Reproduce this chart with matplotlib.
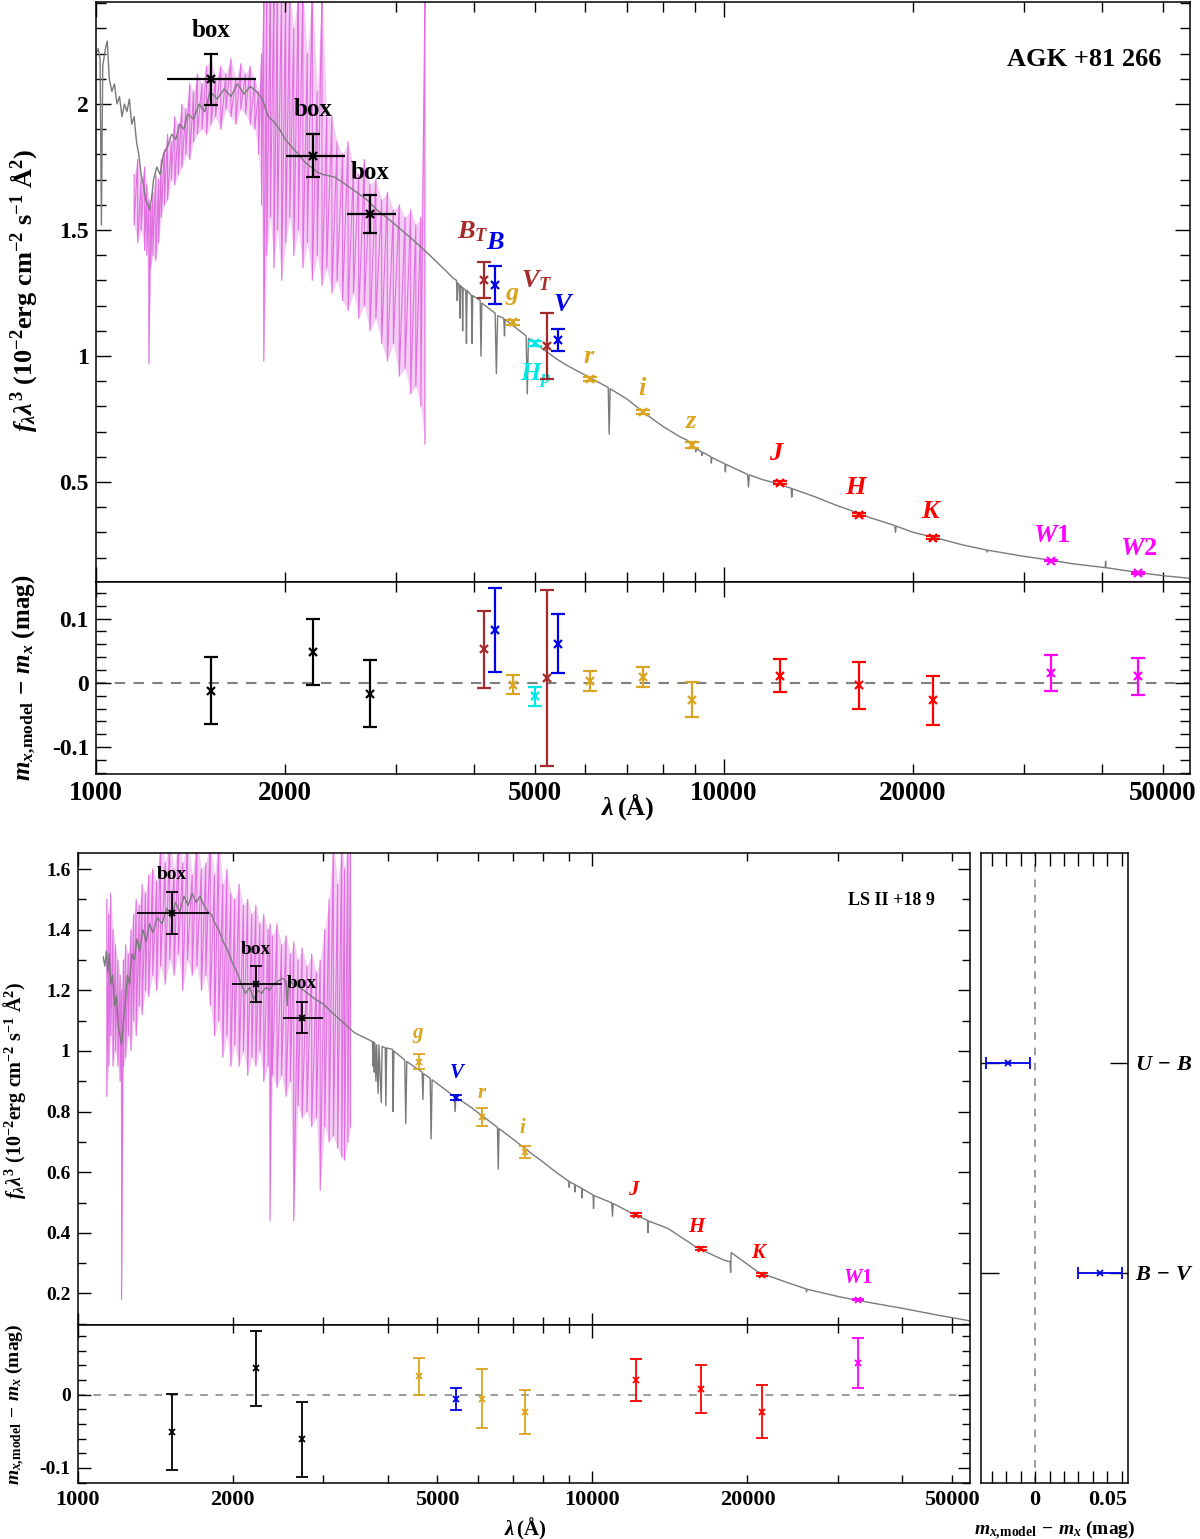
import numpy as np
import matplotlib
matplotlib.use('Agg')
import matplotlib.pyplot as plt
from matplotlib.ticker import FixedLocator, FuncFormatter, NullFormatter, MultipleLocator

plt.rcParams['font.family'] = ['Liberation Serif', 'DejaVu Serif']
plt.rcParams['font.weight'] = 'bold'
plt.rcParams['mathtext.fontset'] = 'custom'
plt.rcParams['mathtext.rm'] = 'Liberation Serif:bold'
plt.rcParams['mathtext.it'] = 'Liberation Serif:bold:italic'
plt.rcParams['mathtext.bf'] = 'Liberation Serif:bold'
plt.rcParams['axes.unicode_minus'] = False

# ---------------- AGK +81 266 (top) ----------------
top_names = ['$B_T$', '$B$', '$g$', '$H_p$', '$V_T$', '$V$', '$r$', '$i$', '$z$',
             '$J$', '$H$', '$K$', '$W1$', '$W2$']
top_bands = ['brown', 'blue', 'gold', 'cyan', 'brown', 'blue', 'gold', 'gold', 'gold',
             'red', 'red', 'red', 'mag', 'mag']
top_wl = [4150, 4323, 4618, 5000, 5222, 5433, 6120, 7422, 8882, 12296, 16388, 21520, 33170, 45650]
top_flux = [1.302, 1.282, 1.134, 1.050, 1.041, 1.063, 0.909, 0.778, 0.645, 0.497, 0.370, 0.279, 0.188, 0.138]
top_ferr = [0.073, 0.077, 0.010, 0.010, 0.131, 0.045, 0.008, 0.008, 0.012, 0.007, 0.007, 0.006, 0.003, 0.003]
top_res = [0.052, 0.082, -0.003, -0.021, 0.007, 0.061, 0.003, 0.009, -0.026, 0.011, -0.004, -0.027, 0.0155, 0.010]
top_rerr = [0.060, 0.065, 0.015, 0.015, 0.137, 0.046, 0.015, 0.015, 0.028, 0.026, 0.036, 0.038, 0.028, 0.029]

top_box_wl = [1524, 2217, 2730]
top_box_lo = [1297, 2006, 2508]
top_box_hi = [1798, 2491, 3000]
top_box_flux = [2.098, 1.795, 1.563]
top_box_ferr = [0.100, 0.085, 0.075]
top_box_res = [-0.012, 0.048, -0.017]
top_box_rerr = [0.052, 0.052, 0.052]

# model spectrum (grey)
top_model_wl = [1000, 1008, 1015, 1020, 1025, 1035, 1042, 1050, 1060, 1070, 1080, 1090, 1100, 1110,
                1120, 1130, 1140, 1150, 1160, 1170, 1180, 1190, 1200, 1210, 1216, 1225, 1235, 1250,
                1265, 1280, 1300, 1320, 1340, 1360, 1380, 1400, 1430, 1460, 1490, 1520, 1560, 1600,
                1640, 1680, 1720, 1760, 1800, 1840, 1880, 1920, 1960, 2000, 2050, 2100, 2150, 2200,
                2250, 2300, 2400, 2500, 2600, 2700, 2800, 2900, 3000, 3200, 3400, 3600, 3700, 3750,
                3760, 3770, 3790, 3798, 3806, 3830, 3835, 3842, 3880, 3889, 3898, 3960, 3970, 3980,
                4090, 4102, 4115, 4320, 4340, 4360, 4460, 4471, 4482, 4840, 4861, 4882, 5400, 5600,
                6000, 6540, 6563, 6586, 7000, 7500, 8000, 8500, 8750, 9000, 9015, 9030, 9200, 9229,
                9250, 9530, 9546, 9560, 10030, 10049, 10070, 10900, 10938, 10970, 11500, 12000, 12790,
                12818, 12850, 14000, 15000, 16000, 17000, 18000, 18700, 18751, 18800, 20000, 21620,
                21655, 21690, 24000, 26200, 26250, 26300, 30000, 33000, 36000, 40450, 40512, 40560,
                45000, 50000, 55000]
top_model_f = [2.20, 2.22, 2.18, 1.52, 2.15, 2.22, 2.25, 2.10, 2.05, 2.08, 2.00, 2.03, 1.95, 2.00,
               1.97, 2.02, 1.92, 1.95, 1.85, 1.80, 1.72, 1.68, 1.62, 1.60, 1.58, 1.62, 1.70, 1.75,
               1.72, 1.80, 1.83, 1.88, 1.86, 1.92, 1.90, 1.96, 1.94, 2.00, 1.97, 2.05, 2.02, 2.06,
               2.03, 2.08, 2.04, 2.07, 2.05, 2.02, 1.95, 1.93, 1.90, 1.86, 1.83, 1.80, 1.77, 1.75,
               1.73, 1.72, 1.71, 1.68, 1.65, 1.62, 1.58, 1.55, 1.52, 1.46, 1.40, 1.34, 1.31, 1.30,
               1.22, 1.29, 1.28, 1.15, 1.28, 1.27, 1.10, 1.27, 1.26, 1.05, 1.26, 1.24, 1.05, 1.24,
               1.22, 1.00, 1.21, 1.17, 0.93, 1.16, 1.15, 1.08, 1.145, 1.08, 0.85, 1.07, 0.99, 0.965,
               0.925, 0.875, 0.69, 0.87, 0.83, 0.77, 0.72, 0.68, 0.665, 0.635, 0.62, 0.633, 0.62, 0.605,
               0.618, 0.60, 0.575, 0.597, 0.572, 0.54, 0.57, 0.53, 0.48, 0.528, 0.51, 0.497, 0.475,
               0.44, 0.473, 0.44, 0.41, 0.385, 0.36, 0.34, 0.327, 0.30, 0.325, 0.30, 0.28,
               0.265, 0.279, 0.25, 0.23, 0.222, 0.229, 0.205, 0.19, 0.175, 0.16, 0.185, 0.16,
               0.143, 0.128, 0.118]

# observed UV spectrum (violet): upper / lower envelope of the spikes
top_uv_wl = [1150, 1165, 1180, 1195, 1205, 1214, 1222, 1232, 1245, 1258, 1270, 1285, 1300, 1318,
             1335, 1352, 1370, 1390, 1410, 1430, 1450, 1475, 1500, 1525, 1550, 1580, 1610, 1640,
             1670, 1700, 1730, 1760, 1790, 1815, 1835, 1850, 1870, 1895, 1920, 1945, 1975, 2005,
             2035, 2065, 2100, 2135, 2170, 2210, 2250, 2290, 2330, 2375, 2420, 2470, 2520, 2570,
             2620, 2675, 2730, 2790, 2850, 2910, 2975, 3040, 3105, 3170, 3230, 3290, 3340]
top_uv_hi = [1.72, 1.78, 1.70, 1.75, 1.68, 1.62, 1.60, 1.65, 1.72, 1.70, 1.78, 1.82, 1.88, 1.85,
             1.95, 1.92, 2.00, 1.98, 2.08, 2.05, 2.12, 2.08, 2.15, 2.18, 2.10, 2.15, 2.12, 2.18,
             2.10, 2.16, 2.12, 2.15, 2.10, 2.05, 2.20, 2.45, 2.45, 2.45, 2.45, 2.45, 2.45, 2.45,
             2.45, 2.30, 2.45, 2.45, 2.20, 2.45, 2.05, 2.45, 1.95, 1.95, 1.85, 1.80, 1.85, 1.75,
             1.72, 1.78, 1.68, 1.70, 1.62, 1.65, 1.58, 1.60, 1.55, 1.58, 1.52, 1.55, 2.45]
top_uv_lo = [1.52, 1.45, 1.50, 1.42, 1.40, 0.97, 1.35, 1.40, 1.38, 1.45, 1.55, 1.60, 1.62, 1.70,
             1.68, 1.72, 1.75, 1.80, 1.78, 1.85, 1.88, 1.90, 1.88, 1.92, 1.95, 1.90, 1.98, 1.95,
             1.92, 1.98, 1.96, 1.92, 1.90, 1.80, 1.60, 0.98, 1.40, 1.55, 1.35, 1.50, 1.30, 1.45,
             1.55, 1.40, 1.50, 1.35, 1.45, 1.30, 1.40, 1.28, 1.35, 1.25, 1.30, 1.22, 1.18, 1.25,
             1.15, 1.20, 1.10, 1.15, 1.05, 0.98, 1.05, 0.92, 0.95, 0.85, 0.88, 0.80, 0.65]

# ---------------- LS II +18 9 (bottom) ----------------
bot_names = ['$g$', '$V$', '$r$', '$i$', '$J$', '$H$', '$K$', '$W1$']
bot_bands = ['gold', 'blue', 'gold', 'gold', 'red', 'red', 'red', 'mag']
bot_wl = [4610, 5424, 6093, 7395, 12148, 16220, 21310, 32730]
bot_flux = [0.965, 0.846, 0.782, 0.667, 0.460, 0.348, 0.262, 0.180]
bot_ferr = [0.024, 0.008, 0.030, 0.019, 0.006, 0.006, 0.005, 0.003]
bot_res = [0.025, -0.0055, -0.0055, -0.023, 0.020, 0.0078, -0.023, 0.043]
bot_rerr = [0.025, 0.015, 0.040, 0.030, 0.029, 0.033, 0.036, 0.034]

bot_box_wl = [1528, 2222, 2725]
bot_box_lo = [1303, 1998, 2502]
bot_box_hi = [1800, 2492, 2993]
bot_box_flux = [1.454, 1.220, 1.110]
bot_box_ferr = [0.069, 0.059, 0.052]
bot_box_res = [-0.051, 0.036, -0.061]
bot_box_rerr = [0.0515, 0.051, 0.051]

bot_model_wl = [1122, 1130, 1138, 1145, 1152, 1160, 1170, 1180, 1190, 1200, 1210, 1218, 1228, 1238,
                1250, 1262, 1275, 1290, 1305, 1320, 1340, 1360, 1380, 1400, 1430, 1460, 1490, 1520,
                1550, 1580, 1610, 1640, 1670, 1700, 1730, 1760, 1790, 1820, 1850, 1880, 1920, 1960,
                2000, 2040, 2080, 2120, 2160, 2200, 2240, 2280, 2320, 2360, 2400, 2450, 2500, 2540,
                2555, 2570, 2620, 2700, 2800, 2900, 3000, 3150, 3300, 3450, 3600, 3700, 3740, 3750,
                3760, 3770, 3780, 3798, 3810, 3835, 3850, 3889, 3905, 3960, 3970, 3985, 4090, 4102,
                4115, 4320, 4340, 4360, 4670, 4686, 4700, 4840, 4861, 4882, 5390, 5411, 5430, 5800,
                6540, 6563, 6586, 7000, 7500, 8000, 8500, 9000, 9015, 9030, 9230, 9245, 9260, 9530,
                9546, 9560, 10030, 10049, 10070, 10900, 10938, 10970, 12000, 12790, 12818, 12850,
                14000, 16000, 18000, 18500, 18550, 18600, 21000, 24000, 26000, 26050, 26100, 30000,
                33000, 40000, 47000, 54000]
bot_model_f = [1.31, 1.28, 1.33, 1.26, 1.32, 1.22, 1.25, 1.15, 1.18, 1.08, 1.05, 1.02, 1.10, 1.15,
               1.25, 1.22, 1.32, 1.30, 1.37, 1.33, 1.40, 1.36, 1.42, 1.39, 1.44, 1.42, 1.47, 1.44,
               1.49, 1.46, 1.51, 1.48, 1.52, 1.49, 1.51, 1.48, 1.46, 1.45, 1.42, 1.40, 1.36, 1.33,
               1.29, 1.26, 1.22, 1.19, 1.21, 1.17, 1.20, 1.19, 1.21, 1.20, 1.22, 1.23, 1.24, 1.23,
               1.15, 1.24, 1.22, 1.21, 1.19, 1.17, 1.155, 1.12, 1.09, 1.06, 1.045, 1.035, 1.03, 0.95,
               1.03, 0.93, 1.025, 0.90, 1.02, 0.86, 1.02, 0.83, 1.015, 1.01, 0.82, 1.01, 1.005, 0.80,
               1.0, 0.97, 0.76, 0.965, 0.93, 0.84, 0.925, 0.91, 0.71, 0.905, 0.85, 0.80, 0.848, 0.815,
               0.748, 0.61, 0.744, 0.71, 0.67, 0.635, 0.60, 0.57, 0.55, 0.568, 0.560, 0.535, 0.558, 0.547,
               0.515, 0.545, 0.525, 0.48, 0.523, 0.499, 0.455, 0.497, 0.462, 0.441, 0.40, 0.439,
               0.415, 0.35, 0.31, 0.305, 0.27, 0.335, 0.27, 0.235, 0.215, 0.205, 0.214, 0.19,
               0.176, 0.151, 0.128, 0.11]

bot_uv_wl = [1140, 1150, 1160, 1172, 1185, 1198, 1210, 1218, 1228, 1240, 1255, 1270, 1285, 1300,
             1318, 1335, 1355, 1375, 1400, 1425, 1450, 1480, 1510, 1540, 1570, 1600, 1635, 1670,
             1705, 1740, 1775, 1810, 1845, 1880, 1915, 1950, 1985, 2020, 2060, 2100, 2140, 2180,
             2220, 2260, 2300, 2345, 2365, 2390, 2440, 2490, 2540, 2590, 2630, 2680, 2730, 2790,
             2850, 2910, 2960, 3020, 3080, 3140, 3200, 3260, 3300, 3350, 3390]
bot_uv_hi = [1.50, 1.45, 1.52, 1.40, 1.35, 1.30, 1.25, 1.20, 1.30, 1.35, 1.32, 1.40, 1.45, 1.50,
             1.48, 1.55, 1.52, 1.58, 1.60, 1.56, 1.70, 1.62, 1.70, 1.60, 1.70, 1.62, 1.70, 1.58,
             1.70, 1.60, 1.62, 1.70, 1.58, 1.70, 1.55, 1.60, 1.52, 1.50, 1.55, 1.48, 1.50, 1.45,
             1.48, 1.42, 1.45, 1.40, 1.42, 1.38, 1.42, 1.35, 1.38, 1.32, 1.36, 1.30, 1.34, 1.28,
             1.32, 1.26, 1.30, 1.40, 1.50, 1.70, 1.55, 1.70, 1.60, 1.70, 1.70]
bot_uv_lo = [0.85, 0.95, 1.05, 0.95, 1.00, 0.95, 0.90, 0.18, 0.95, 0.98, 1.05, 1.00, 1.10, 1.05,
             1.15, 1.12, 1.20, 1.18, 1.25, 1.20, 1.28, 1.22, 1.30, 1.25, 1.32, 1.20, 1.30, 1.25,
             1.28, 1.20, 1.25, 1.15, 1.05, 1.10, 0.98, 1.05, 0.95, 1.02, 0.95, 1.00, 0.92, 0.98,
             0.95, 1.00, 0.90, 0.95, 0.44, 0.92, 0.88, 0.92, 0.85, 0.90, 0.44, 0.82, 0.78, 0.80,
             0.75, 0.78, 0.54, 0.75, 0.70, 0.72, 0.68, 0.65, 0.64, 0.70, 0.75]

# colour indices (right panel)
col_names = ['$U\\,-\\,B$', '$B\\,-\\,V$']
col_res = [-0.0189, 0.0448]
col_err = [0.0153, 0.0153]

COLORS = {'brown': '#a52a2a', 'blue': '#0000e6', 'gold': '#daa520', 'cyan': '#00e8e8',
          'red': '#ff0000', 'mag': '#ff00ff', 'black': 'black'}
UV_COLOR = '#e070e0'
MODEL_COLOR = '#7a7a7a'

# label offsets in pixels (dx, dy) relative to the data point
top_lab_off = [(-11, 48), (0, 42), (-1, 27), (1, -33), (-10, 65), (6, 36), (-1, 22), (0, 23),
               (0, 24), (-3, 29), (-2, 27), (-1, 26), (1, 25), (1, 25)]
top_box_off = [(0, 49), (0, 46), (0, 42)]
bot_lab_off = [(-1, 27), (2, 25), (0, 24), (-2, 24), (-1, 25), (-3, 22), (-2, 22), (0, 22)]
bot_box_off = [(0, 39), (0, 35), (0, 34)]

W, H = 1200, 1539
fig = plt.figure(figsize=(W / 100, H / 100), dpi=100)


def add_ax(l, t, r, b):
    return fig.add_axes([l / W, 1 - b / H, (r - l) / W, (b - t) / H])


def zigzag(wl, hi, lo):
    x = np.repeat(np.asarray(wl, float), 2)
    y = np.column_stack([hi, lo]).ravel()
    return x, y


def style(ax, yfs, xfs, big):
    L = 11 if big else 9
    ax.tick_params(which='both', direction='in', top=True, right=True,
                   width=1.0, pad=5)
    ax.tick_params(axis='y', which='both', labelsize=yfs)
    ax.tick_params(axis='x', which='both', labelsize=xfs)
    ax.tick_params(which='major', length=L)
    ax.tick_params(which='minor', length=L * 0.65)
    for s in ax.spines.values():
        s.set_linewidth(1.1)


def logx(ax, xmax, labels):
    ax.set_xscale('log')
    ax.set_xlim(1000, xmax)
    ax.xaxis.set_major_locator(FixedLocator([1000, 10000]))
    minors = [m * d for d in (1000, 10000) for m in range(2, 10) if m * d < xmax]
    ax.xaxis.set_minor_locator(FixedLocator(minors))
    if labels:
        ax.xaxis.set_major_formatter(FuncFormatter(lambda v, p: f'{v:.0f}'))

        def minor_fmt(v, p):
            lead = round(v / 10 ** np.floor(np.log10(v)))
            return f'{v:.0f}' if lead in (2, 5) else ''
        ax.xaxis.set_minor_formatter(FuncFormatter(minor_fmt))
    else:
        ax.xaxis.set_major_formatter(NullFormatter())
        ax.xaxis.set_minor_formatter(NullFormatter())


def gfmt(v, p):
    return f'{v:g}'


def draw_section(ax, axr, d, big):
    fs_lab = 19 if big else 15
    ms = 6 if big else 5
    lw = 1.6 if big else 1.3
    cs = 5 if big else 4
    x, y = zigzag(d['uv_wl'], d['uv_hi'], d['uv_lo'])
    ax.fill_between(d['uv_wl'], d['uv_lo'], d['uv_hi'], color=UV_COLOR, alpha=0.35,
                    lw=0, zorder=1)
    ax.plot(x, y, color=UV_COLOR, lw=0.8, zorder=1)
    ax.plot(d['m_wl'], d['m_f'], color=MODEL_COLOR, lw=1.0, zorder=2)
    # box photometry: horizontal bar = passband, vertical bar = flux error
    bw = np.array(d['box_wl'])
    xerr = [bw - np.array(d['box_lo']), np.array(d['box_hi']) - bw]
    ax.errorbar(bw, d['box_f'], xerr=xerr, fmt='none', ecolor='black',
                elinewidth=lw, capsize=0, zorder=4)
    ax.errorbar(bw, d['box_f'], yerr=d['box_fe'], fmt='x', color='black',
                ms=ms, mew=lw, elinewidth=lw, capsize=cs, capthick=lw, zorder=4)
    for xi, yi, off in zip(bw, d['box_f'], d['box_off']):
        ax.annotate('box', (xi, yi), xytext=off, textcoords='offset pixels',
                    ha='center', va='center', fontsize=fs_lab - 1, fontweight='bold')
    axr.errorbar(bw, d['box_r'], yerr=d['box_re'], fmt='x', color='black',
                 ms=ms, mew=lw, elinewidth=lw, capsize=cs, capthick=lw)
    # filter photometry
    for nm, bd, wl, f, fe, r, re, off in zip(d['names'], d['bands'], d['wl'], d['f'], d['fe'],
                                            d['r'], d['re'], d['off']):
        c = COLORS[bd]
        ax.errorbar(wl, f, yerr=fe, fmt='x', color=c, ms=ms, mew=lw, elinewidth=lw,
                    capsize=cs, capthick=lw, zorder=4)
        ax.annotate(nm, (wl, f), xytext=off, textcoords='offset pixels', ha='center',
                    va='center', fontsize=fs_lab, color=c)
        axr.errorbar(wl, r, yerr=re, fmt='x', color=c, ms=ms, mew=lw, elinewidth=lw,
                     capsize=cs, capthick=lw)
    axr.axhline(0, color='#808080', ls=(0, (5, 4)) if big else (0, (5, 5)),
                lw=1.5 if big else 1.1, zorder=0)


# ---------- top section ----------
ax1 = add_ax(96, 2, 1190, 582)
ax1r = add_ax(96, 582, 1190, 774)
draw_section(ax1, ax1r, dict(
    uv_wl=top_uv_wl, uv_hi=top_uv_hi, uv_lo=top_uv_lo, m_wl=top_model_wl, m_f=top_model_f,
    box_wl=top_box_wl, box_lo=top_box_lo, box_hi=top_box_hi, box_f=top_box_flux,
    box_fe=top_box_ferr, box_r=top_box_res, box_re=top_box_rerr, box_off=top_box_off,
    names=top_names, bands=top_bands, wl=top_wl, f=top_flux, fe=top_ferr, r=top_res,
    re=top_rerr, off=top_lab_off), True)
for a in (ax1, ax1r):
    style(a, 17, 19.5, True)
logx(ax1, 55200, False)
logx(ax1r, 55200, True)
ax1.set_ylim(0.103, 2.405)
ax1.yaxis.set_major_locator(MultipleLocator(0.5))
ax1.yaxis.set_minor_locator(MultipleLocator(0.1))
ax1.yaxis.set_major_formatter(FuncFormatter(gfmt))
ax1r.set_ylim(-0.142, 0.157)
ax1r.yaxis.set_major_locator(MultipleLocator(0.1))
ax1r.yaxis.set_minor_locator(MultipleLocator(0.02))
ax1r.yaxis.set_major_formatter(FuncFormatter(gfmt))
ax1.text(0.974, 0.90, 'AGK +81 266', transform=ax1.transAxes, ha='right', va='center',
         fontsize=19, fontweight='bold')

ylab_main = r'$f_\lambda\lambda^3$ (10$^{-2}$erg cm$^{-2}$ s$^{-1}$ Å$^2$)'
ylab_res = r'$m_{x,\!\mathrm{model}}\,-\,m_x$ (mag)'
fig.text(24 / W, 1 - 290 / H, ylab_main, rotation=90, ha='center', va='center', fontsize=19)
fig.text(24 / W, 1 - 678 / H, ylab_res, rotation=90, ha='center', va='center', fontsize=18)
fig.text(628 / W, 1 - 807 / H, r'$\lambda\,$(Å)', ha='center', va='center', fontsize=19)

# ---------- bottom section ----------
ax2 = add_ax(77.5, 853, 970, 1325)
ax2r = add_ax(77.5, 1325, 970, 1483)
draw_section(ax2, ax2r, dict(
    uv_wl=bot_uv_wl, uv_hi=bot_uv_hi, uv_lo=bot_uv_lo, m_wl=bot_model_wl, m_f=bot_model_f,
    box_wl=bot_box_wl, box_lo=bot_box_lo, box_hi=bot_box_hi, box_f=bot_box_flux,
    box_fe=bot_box_ferr, box_r=bot_box_res, box_re=bot_box_rerr, box_off=bot_box_off,
    names=bot_names, bands=bot_bands, wl=bot_wl, f=bot_flux, fe=bot_ferr, r=bot_res,
    re=bot_rerr, off=bot_lab_off), False)
for a in (ax2, ax2r):
    style(a, 14, 16, False)
logx(ax2, 54100, False)
logx(ax2r, 54100, True)
ax2.set_ylim(0.096, 1.653)
ax2.yaxis.set_major_locator(MultipleLocator(0.2))
ax2.yaxis.set_minor_locator(MultipleLocator(0.1))
ax2.yaxis.set_major_formatter(FuncFormatter(gfmt))
ax2r.set_ylim(-0.1205, 0.095)
ax2r.yaxis.set_major_locator(MultipleLocator(0.1))
ax2r.yaxis.set_minor_locator(MultipleLocator(0.02))
ax2r.yaxis.set_major_formatter(FuncFormatter(gfmt))
ax2.text(0.961, 0.90, 'LS II +18 9', transform=ax2.transAxes, ha='right', va='center',
         fontsize=13, fontweight='bold')

fig.text(15 / W, 1 - 1090 / H, ylab_main, rotation=90, ha='center', va='center', fontsize=14.5)
fig.text(15 / W, 1 - 1404 / H, ylab_res, rotation=90, ha='center', va='center', fontsize=14)
fig.text(525 / W, 1 - 1529 / H, r'$\lambda\,$(Å)', ha='center', va='center', fontsize=15)

# ---------- right panel: colour indices ----------
ax3 = add_ax(981, 853, 1128, 1483)
ypos = [2, 1]
for yv, v, e in zip(ypos, col_res, col_err):
    ax3.errorbar(v, yv, xerr=e, fmt='x', color=COLORS['blue'], ms=5, mew=1.3,
                 elinewidth=1.3, capsize=4, capthick=1.3)
ax3.axvline(0, color='#808080', ls=(0, (5, 5)), lw=1.1, zorder=0)
ax3.set_xlim(-0.0375, 0.0644)
ax3.set_ylim(0, 3)
ax3.xaxis.set_major_locator(FixedLocator([0, 0.05]))
ax3.xaxis.set_minor_locator(MultipleLocator(0.01))
ax3.xaxis.set_major_formatter(FuncFormatter(gfmt))
ax3.set_yticks(ypos)
ax3.set_yticklabels(col_names)
style(ax3, 16, 16, False)
ax3.tick_params(axis='y', which='major', length=13, labelleft=False, labelright=True)
ax3.tick_params(axis='x', which='minor', length=9)
fig.text(1055 / W, 1 - 1530 / H, ylab_res, ha='center', va='center', fontsize=14)

fig.savefig('out.png', dpi=100)
